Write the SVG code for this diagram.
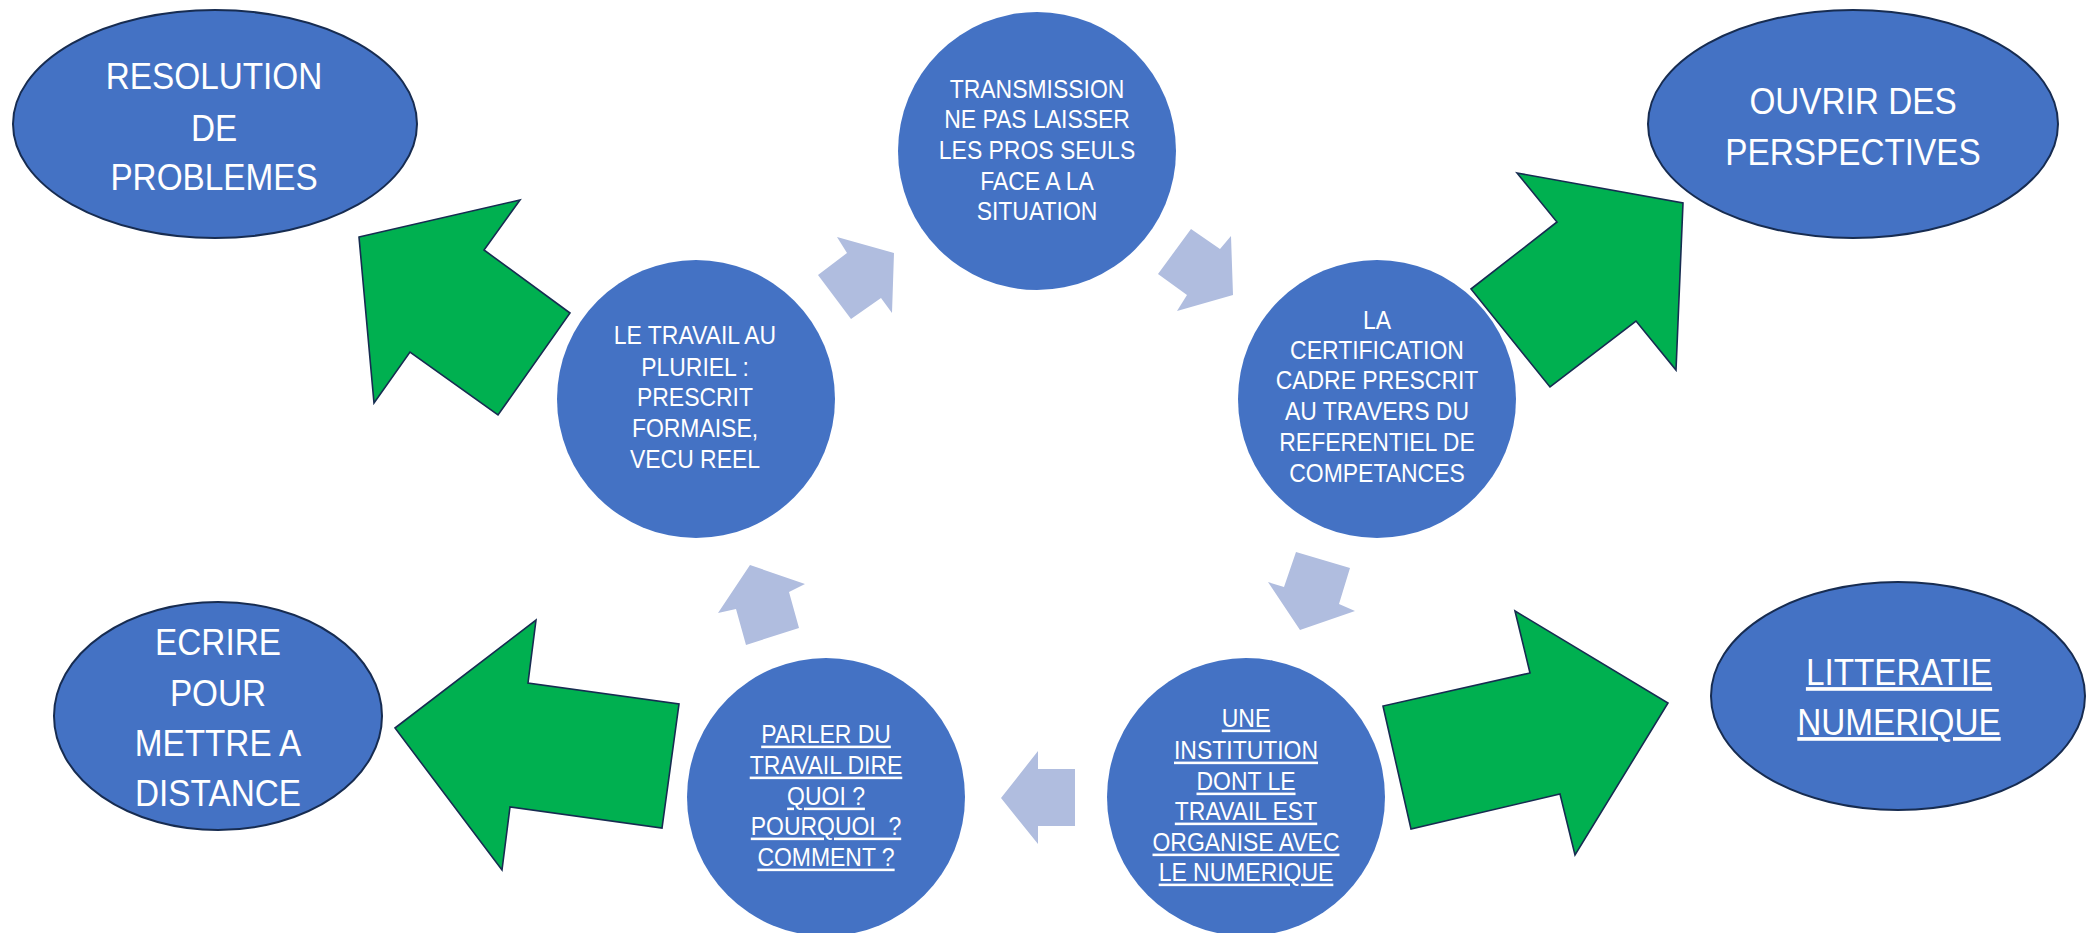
<svg xmlns="http://www.w3.org/2000/svg" width="2089" height="933" viewBox="0 0 2089 933">
<style>
.bg{fill:#FFFFFF}
.outer{fill:#4472C4;stroke:#172C51;stroke-width:2}
.inner{fill:#4472C4}
.green{fill:#00B050;stroke:#172C51;stroke-width:1.6;stroke-linejoin:miter}
.light{fill:#B0BDDF}
.big{font-family:"Liberation Sans",Arial,sans-serif;font-size:37px;fill:#FFFFFF;text-anchor:middle}
.small{font-family:"Liberation Sans",Arial,sans-serif;font-size:25.5px;fill:#FFFFFF;text-anchor:middle}
.u{text-decoration:underline}
</style>
<rect class="bg" x="0" y="0" width="2089" height="933"/>

<g id="node-transmission">
<circle class="inner" cx="1037" cy="151" r="139"/>
<text class="small" transform="translate(1037 0) scale(0.9 1)"><tspan x="0" y="98">TRANSMISSION</tspan><tspan x="0" y="128.5">NE PAS LAISSER</tspan><tspan x="0" y="159">LES PROS SEULS</tspan><tspan x="0" y="190">FACE A LA</tspan><tspan x="0" y="220.5">SITUATION</tspan></text>
</g>

<g id="node-certification">
<circle class="inner" cx="1377" cy="399" r="139"/>
<text class="small" transform="translate(1377 0) scale(0.9 1)"><tspan x="0" y="329.5">LA</tspan><tspan x="0" y="359.5">CERTIFICATION</tspan><tspan x="0" y="389.5">CADRE PRESCRIT</tspan><tspan x="0" y="420.5">AU TRAVERS DU</tspan><tspan x="0" y="451.5">REFERENTIEL DE</tspan><tspan x="0" y="482.5">COMPETANCES</tspan></text>
</g>

<g id="node-institution">
<circle class="inner" cx="1246" cy="797" r="139"/>
<text class="small u" transform="translate(1246 0) scale(0.9 1)"><tspan x="0" y="727.5">UNE</tspan><tspan x="0" y="759.5">INSTITUTION</tspan><tspan x="0" y="790.5">DONT LE</tspan><tspan x="0" y="820.5">TRAVAIL EST</tspan><tspan x="0" y="851.5">ORGANISE AVEC</tspan><tspan x="0" y="881.5">LE NUMERIQUE</tspan></text>
</g>

<g id="node-parler">
<circle class="inner" cx="826" cy="797" r="139"/>
<text class="small u" style="white-space:pre" transform="translate(826 0) scale(0.9 1)"><tspan x="0" y="743.5">PARLER DU</tspan><tspan x="0" y="774.5">TRAVAIL DIRE</tspan><tspan x="0" y="805.5">QUOI ?</tspan><tspan x="0" y="835.5">POURQUOI  ?</tspan><tspan x="0" y="866.5">COMMENT ?</tspan></text>
</g>

<g id="node-pluriel">
<circle class="inner" cx="696" cy="399" r="139"/>
<text class="small" transform="translate(695 0) scale(0.9 1)"><tspan x="0" y="344.5">LE TRAVAIL AU</tspan><tspan x="0" y="375.5">PLURIEL :</tspan><tspan x="0" y="406.5">PRESCRIT</tspan><tspan x="0" y="437.5">FORMAISE,</tspan><tspan x="0" y="468.5">VECU REEL</tspan></text>
</g>

<g id="node-resolution">
<ellipse class="outer" cx="215" cy="124" rx="202" ry="114"/>
<text class="big" transform="translate(214 0) scale(0.9 1)"><tspan x="0" y="89">RESOLUTION</tspan><tspan x="0" y="141">DE</tspan><tspan x="0" y="190">PROBLEMES</tspan></text>
</g>

<g id="node-ouvrir">
<ellipse class="outer" cx="1853" cy="124" rx="205" ry="114"/>
<text class="big" transform="translate(1853 0) scale(0.9 1)"><tspan x="0" y="114">OUVRIR DES</tspan><tspan x="0" y="165">PERSPECTIVES</tspan></text>
</g>

<g id="node-ecrire">
<ellipse class="outer" cx="218" cy="716" rx="164" ry="114"/>
<text class="big" transform="translate(218 0) scale(0.9 1)"><tspan x="0" y="655">ECRIRE</tspan><tspan x="0" y="706">POUR</tspan><tspan x="0" y="756">METTRE A</tspan><tspan x="0" y="806">DISTANCE</tspan></text>
</g>

<g id="node-litteratie">
<ellipse class="outer" cx="1898" cy="696" rx="187" ry="114"/>
<text class="big u" transform="translate(1899 0) scale(0.9 1)"><tspan x="0" y="685">LITTERATIE</tspan><tspan x="0" y="735">NUMERIQUE</tspan></text>
</g>

<g id="connectors">
<polygon class="light" points="837,237 894,253 892,313 881,298 851,319 818,275 847,253"/>
<polygon class="light" points="1191,229 1220,249 1231,236 1233,295 1177,311 1187,295 1158,274"/>
<polygon class="light" points="1296,552 1350,568 1339,604 1355,611 1300,630 1268,582 1284,587"/>
<polygon class="light" points="1001,798 1038,751 1038,769 1075,769 1075,826 1038,826 1038,844"/>
<polygon class="light" points="750,565 805,584 789,592 799,628 746,645 736,609 718,613"/>
<polygon class="green" points="359,237 520,200 484,250 570,313 498,415 410,352 374,403"/>
<polygon class="green" points="1517,173 1683,203 1676,370 1636,321 1550,387 1471,289 1557,222"/>
<polygon class="green" points="395,728 536,620 528,683 679,704 662,828 510,807 502,870"/>
<polygon class="green" points="1515,611 1530,673 1383,706 1411,829 1560,794 1575,855 1668,703"/>
</g>
</svg>
